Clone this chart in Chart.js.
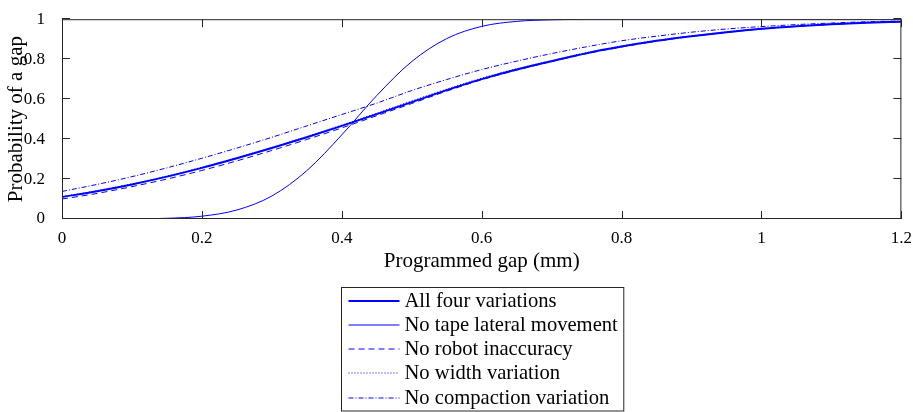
<!DOCTYPE html>
<html>
<head>
<meta charset="utf-8">
<script src="https://cdn.jsdelivr.net/npm/chart.js@4"></script>
<style>
  html, body { margin: 0; padding: 0; background: #fff; }
  #wrap { width: 913px; height: 412px; }
</style>
</head>
<body>
<div id="wrap"><canvas id="gapChart" width="913" height="412"></canvas></div>
<script>
/* ================= DATA ================= */

const gapValues = [0, 0.05, 0.1, 0.15, 0.2, 0.25, 0.3, 0.35, 0.4, 0.45, 0.5, 0.55, 0.6,
                   0.65, 0.7, 0.75, 0.8, 0.85, 0.9, 0.95, 1, 1.05, 1.1, 1.15, 1.2];

const allFour     = [0.110, 0.139, 0.173, 0.212, 0.256, 0.304, 0.355, 0.409, 0.466, 0.525, 0.585, 0.645, 0.700,
                     0.748, 0.790, 0.830, 0.863, 0.892, 0.915, 0.935, 0.952, 0.965, 0.975, 0.982, 0.987];
const noTape      = [0.000, 0.0001, 0.0007, 0.0035, 0.014, 0.045, 0.115, 0.242, 0.421, 0.618, 0.788, 0.903, 0.964,
                     0.989, 0.997, 0.9995, 1, 1, 1, 1, 1, 1, 1, 1, 1];
const noRobot     = [0.100, 0.128, 0.162, 0.200, 0.243, 0.291, 0.343, 0.398, 0.456, 0.517, 0.578, 0.640, 0.697,
                     0.745, 0.788, 0.828, 0.861, 0.890, 0.914, 0.934, 0.951, 0.964, 0.974, 0.982, 0.987];
const noWidth     = [0.112, 0.142, 0.176, 0.215, 0.259, 0.307, 0.358, 0.413, 0.470, 0.530, 0.591, 0.650, 0.705,
                     0.752, 0.793, 0.833, 0.866, 0.894, 0.917, 0.937, 0.953, 0.966, 0.976, 0.983, 0.988];
const noCompact   = [0.138, 0.173, 0.212, 0.256, 0.304, 0.355, 0.409, 0.466, 0.523, 0.580, 0.643, 0.698, 0.748,
                     0.790, 0.828, 0.862, 0.892, 0.915, 0.935, 0.951, 0.963, 0.973, 0.981, 0.987, 0.991];

const seriesLabels = ["All four variations", "No tape lateral movement", "No robot inaccuracy",
                      "No width variation", "No compaction variation"];

const xTicks = [0, 0.2, 0.4, 0.6, 0.8, 1, 1.2];
const xTickLabels = ["0", "0.2", "0.4", "0.6", "0.8", "1", "1.2"];
const yTicks = [0, 0.2, 0.4, 0.6, 0.8, 1];
const yTickLabels = ["0", "0.2", "0.4", "0.6", "0.8", "1"];

/* ================= HELPERS ================= */

function toPoints(ys){
    return gapValues.map((x, i) => ({ x, y: ys[i] }));
}

function fixTicks(list){
    return scale => { scale.ticks = list.map(v => ({ value: v })); };
}

function tickText(values, labels){
    return v => {
        const i = values.findIndex(t => Math.abs(t - v) < 1e-9);
        return i >= 0 ? labels[i] : "";
    };
}

/* ================= PLUGINS ================= */

// box round the plot with inward ticks on all four sides
const frameTicks = {
    id: "frameTicks",
    afterDatasetsDraw(chart){
        const { ctx, chartArea: a, scales } = chart;
        const len = 8;
        ctx.save();
        ctx.lineWidth = 1;
        ctx.strokeStyle = "#262626";
        ctx.beginPath();
        ctx.moveTo(a.left + 0.5, a.top + 0.5);
        ctx.lineTo(a.right - 0.5, a.top + 0.5);
        ctx.lineTo(a.right - 0.5, a.bottom - 0.5);
        ctx.lineTo(a.left + 0.5, a.bottom - 0.5);
        ctx.closePath();
        scales.x.ticks.forEach(t => {
            const px = Math.round(scales.x.getPixelForValue(t.value)) + 0.5;
            ctx.moveTo(px, a.bottom); ctx.lineTo(px, a.bottom - len);
            ctx.moveTo(px, a.top);    ctx.lineTo(px, a.top + len);
        });
        scales.y.ticks.forEach(t => {
            const py = Math.round(scales.y.getPixelForValue(t.value)) - 0.5;
            ctx.moveTo(a.left, py);  ctx.lineTo(a.left + len, py);
            ctx.moveTo(a.right, py); ctx.lineTo(a.right - len, py);
        });
        ctx.stroke();
        ctx.restore();
    }
};

// framed legend in one column under the plot
const boxLegend = {
    id: "boxLegend",
    afterDraw(chart){
        const { ctx, chartArea: a } = chart;
        const sets = chart.data.datasets;
        ctx.save();
        ctx.font = "20.6px 'Liberation Serif', 'DejaVu Serif', serif";
        ctx.textBaseline = "middle";
        const textW = Math.max(...sets.map(d => ctx.measureText(d.label).width));
        const lineW = 51, padL = 7, gap = 5, padR = 6, rowH = 24.3;
        const boxW = padL + lineW + gap + textW + padR;
        const boxH = rowH * sets.length + 2;
        const left = Math.round((a.left + a.right) / 2 - boxW / 2) + 0.5;
        const top = a.bottom + 68.5;

        ctx.fillStyle = "#fff";
        ctx.fillRect(left, top, boxW, boxH);
        ctx.strokeStyle = "#262626";
        ctx.lineWidth = 1;
        ctx.strokeRect(left, top, boxW, boxH);

        sets.forEach((d, i) => {
            const y = Math.round(top + 13 + i * rowH);
            ctx.beginPath();
            ctx.setLineDash(d.borderDash || []);
            ctx.lineWidth = d.borderWidth;
            ctx.strokeStyle = d.borderColor;
            ctx.moveTo(left + padL, y);
            ctx.lineTo(left + padL + lineW, y);
            ctx.stroke();
            ctx.setLineDash([]);
            ctx.fillStyle = "#000";
            ctx.fillText(d.label, left + padL + lineW + gap, y + 1);
        });
        ctx.restore();
    }
};

/* ================= CHART ================= */

Chart.defaults.font.family = "'Liberation Serif', 'DejaVu Serif', serif";
Chart.defaults.color = "#000";

const styles = [
    { borderWidth: 2,   borderDash: [] },
    { borderWidth: 1,   borderDash: [] },
    { borderWidth: 1,   borderDash: [6, 4] },
    { borderWidth: 1,   borderDash: [1, 2] },
    { borderWidth: 1,   borderDash: [5, 2, 1, 2] }
];

const seriesValues = [allFour, noTape, noRobot, noWidth, noCompact];

new Chart(document.getElementById("gapChart").getContext("2d"), {
    type: "line",
    data: {
        datasets: seriesValues.map((vals, i) => ({
            label: seriesLabels[i],
            data: toPoints(vals),
            borderColor: "#0000ff",
            backgroundColor: "#0000ff",
            borderWidth: styles[i].borderWidth,
            borderDash: styles[i].borderDash,
            pointRadius: 0,
            fill: false,
            cubicInterpolationMode: "monotone",
            order: 4 - i
        }))
    },
    options: {
        responsive: false,
        animation: false,
        layout: { padding: { left: 0, right: 2, top: 14, bottom: 138 } },
        plugins: {
            legend: { display: false },
            tooltip: { enabled: false }
        },
        scales: {
            x: {
                type: "linear",
                min: 0,
                max: 1.2,
                afterBuildTicks: fixTicks(xTicks),
                afterFit: s => { s.height = 55; },
                grid: { display: false },
                border: { display: false },
                ticks: {
                    font: { size: 17 }, padding: 1, maxRotation: 0, autoSkip: false,
                    callback: tickText(xTicks, xTickLabels)
                },
                title: {
                    display: true,
                    text: "Programmed gap (mm)",
                    font: { size: 21 },
                    padding: { top: 0, bottom: 0 }
                }
            },
            y: {
                type: "linear",
                min: 0,
                max: 1,
                afterBuildTicks: fixTicks(yTicks),
                afterFit: s => { s.width = 62; },
                grid: { display: false },
                border: { display: false },
                ticks: {
                    font: { size: 17 }, padding: 9, autoSkip: false,
                    callback: tickText(yTicks, yTickLabels)
                },
                title: {
                    display: true,
                    text: "Probability of a gap",
                    font: { size: 21 },
                    padding: { top: 4, bottom: 0 }
                }
            }
        }
    },
    plugins: [frameTicks, boxLegend]
});
</script>
</body>
</html>
